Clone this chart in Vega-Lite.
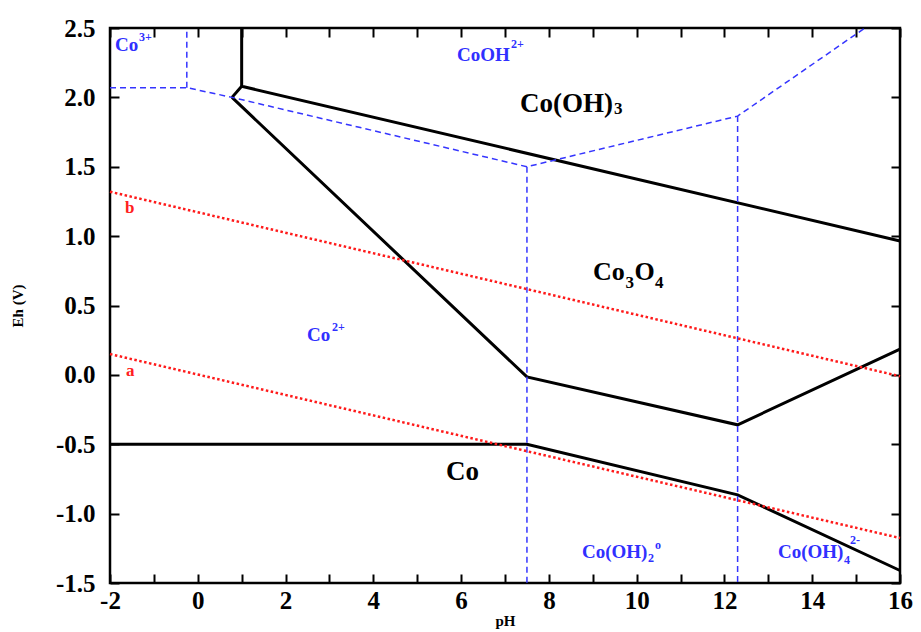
{
  "$schema": "https://vega.github.io/schema/vega-lite/v6.json",
  "width": 790,
  "height": 555,
  "autosize": "none",
  "padding": {"left": 110, "top": 28, "right": 21, "bottom": 49},
  "background": "white",
  "config": {"view": {"stroke": "black", "strokeWidth": 2.5}, "font": "Liberation Serif"},
  "datasets": {
    "lines": [
      {"seg": "B1", "k": "solid", "o": 0, "pH": 1, "Eh": 2.5},
      {"seg": "B1", "k": "solid", "o": 1, "pH": 1, "Eh": 2.08},
      {"seg": "B1", "k": "solid", "o": 2, "pH": 16, "Eh": 0.965},
      {"seg": "B2", "k": "solid", "o": 0, "pH": 1, "Eh": 2.08},
      {"seg": "B2", "k": "solid", "o": 1, "pH": 0.78, "Eh": 2.0},
      {"seg": "B3", "k": "solid", "o": 0, "pH": 0.78, "Eh": 2.0},
      {"seg": "B3", "k": "solid", "o": 1, "pH": 7.5, "Eh": -0.015},
      {"seg": "B3", "k": "solid", "o": 2, "pH": 12.3, "Eh": -0.36},
      {"seg": "B3", "k": "solid", "o": 3, "pH": 16, "Eh": 0.185},
      {"seg": "B4", "k": "solid", "o": 0, "pH": -2, "Eh": -0.5},
      {"seg": "B4", "k": "solid", "o": 1, "pH": 7.5, "Eh": -0.5},
      {"seg": "B4", "k": "solid", "o": 2, "pH": 12.3, "Eh": -0.865},
      {"seg": "B4", "k": "solid", "o": 3, "pH": 16, "Eh": -1.41},
      {"seg": "L1", "k": "dashed", "o": 0, "pH": -2, "Eh": 2.07},
      {"seg": "L1", "k": "dashed", "o": 1, "pH": -0.25, "Eh": 2.07},
      {"seg": "L1", "k": "dashed", "o": 2, "pH": 0.78, "Eh": 2.0},
      {"seg": "L1", "k": "dashed", "o": 3, "pH": 7.5, "Eh": 1.5},
      {"seg": "L1", "k": "dashed", "o": 4, "pH": 12.3, "Eh": 1.865},
      {"seg": "L1", "k": "dashed", "o": 5, "pH": 15.2, "Eh": 2.5},
      {"seg": "L2", "k": "dashed", "o": 0, "pH": -0.25, "Eh": 2.07},
      {"seg": "L2", "k": "dashed", "o": 1, "pH": -0.25, "Eh": 2.5},
      {"seg": "L3", "k": "dashed", "o": 0, "pH": 7.5, "Eh": 1.5},
      {"seg": "L3", "k": "dashed", "o": 1, "pH": 7.5, "Eh": -1.5},
      {"seg": "L4", "k": "dashed", "o": 0, "pH": 12.3, "Eh": 1.865},
      {"seg": "L4", "k": "dashed", "o": 1, "pH": 12.3, "Eh": -1.5},
      {"seg": "Rb", "k": "dotted", "o": 0, "pH": -2, "Eh": 1.32},
      {"seg": "Rb", "k": "dotted", "o": 1, "pH": 16, "Eh": -0.01},
      {"seg": "Ra", "k": "dotted", "o": 0, "pH": -2, "Eh": 0.15},
      {"seg": "Ra", "k": "dotted", "o": 1, "pH": 16, "Eh": -1.176}
    ],
    "labels": [
      {"t": "Co", "c": "blue", "s": 19, "pH": -1.886, "Eh": 2.377},
      {"t": "3+", "c": "blue", "s": 12, "pH": -1.339, "Eh": 2.435},
      {"t": "CoOH", "c": "blue", "s": 19, "pH": 5.906, "Eh": 2.305},
      {"t": "2+", "c": "blue", "s": 12, "pH": 7.137, "Eh": 2.385},
      {"t": "Co", "c": "blue", "s": 19, "pH": 2.488, "Eh": 0.287},
      {"t": "2+", "c": "blue", "s": 12, "pH": 3.058, "Eh": 0.345},
      {"t": "Co(OH)", "c": "blue", "s": 19, "pH": 8.754, "Eh": -1.277},
      {"t": "2", "c": "blue", "s": 12, "pH": 10.258, "Eh": -1.32},
      {"t": "o", "c": "blue", "s": 12, "pH": 10.418, "Eh": -1.226},
      {"t": "Co(OH)", "c": "blue", "s": 19, "pH": 13.22, "Eh": -1.277},
      {"t": "4", "c": "blue", "s": 12, "pH": 14.723, "Eh": -1.334},
      {"t": "2-", "c": "blue", "s": 12, "pH": 14.86, "Eh": -1.19},
      {"t": "Co(OH)", "c": "black", "s": 27, "pH": 7.342, "Eh": 1.952},
      {"t": "3", "c": "black", "s": 17, "pH": 9.483, "Eh": 1.916},
      {"t": "Co", "c": "black", "s": 26, "pH": 9.005, "Eh": 0.741},
      {"t": "3", "c": "black", "s": 17, "pH": 9.745, "Eh": 0.662},
      {"t": "O", "c": "black", "s": 26, "pH": 9.95, "Eh": 0.741},
      {"t": "4", "c": "black", "s": 17, "pH": 10.42, "Eh": 0.662},
      {"t": "Co", "c": "black", "s": 27, "pH": 5.655, "Eh": -0.7},
      {"t": "b", "c": "red", "s": 17, "pH": -1.658, "Eh": 1.203},
      {"t": "a", "c": "red", "s": 17, "pH": -1.635, "Eh": 0.028}
    ]
  },
  "resolve": {"axis": {"x": "independent", "y": "independent"}},
  "layer": [
    {
      "data": {"name": "lines"},
      "transform": [{"filter": "datum.k == 'solid'"}],
      "mark": {"type": "line", "stroke": "black", "strokeWidth": 3},
      "encoding": {
        "x": {"field": "pH", "type": "quantitative", "scale": {"domain": [-2, 16], "nice": false, "zero": false},
          "axis": {"orient": "bottom", "values": [-2,-1,0,1,2,3,4,5,6,7,8,9,10,11,12,13,14,15,16],
            "labelExpr": "datum.value % 2 == 0 ? toString(datum.value) : ''", "labelFont": "Liberation Serif", "labelFontWeight": "bold",
            "labelFontSize": 25, "labelColor": "black", "labelFlush": false, "labelOverlap": false, "tickSize": -9, "tickWidth": 2, "tickColor": "black", "domain": false, "grid": false,
            "labelPadding": 14, "title": "pH", "titleFont": "Liberation Serif", "titleFontSize": 15, "titleFontWeight": "bold", "titleColor": "black", "titlePadding": 0}},
        "y": {"field": "Eh", "type": "quantitative", "scale": {"domain": [-1.5, 2.5], "nice": false, "zero": false},
          "axis": {"orient": "left", "values": [-1.5,-1,-0.5,0,0.5,1,1.5,2,2.5],
            "labelExpr": "replace(format(datum.value, '.1f'), '−', '-')", "labelFont": "Liberation Serif", "labelFontWeight": "bold",
            "labelFontSize": 25, "labelColor": "black", "labelFlush": false, "labelOverlap": false, "tickSize": -9, "tickWidth": 2, "tickColor": "black", "domain": false, "grid": false,
            "labelPadding": 24, "title": "Eh (V)", "titleFont": "Liberation Serif", "titleFontSize": 15, "titleFontWeight": "bold", "titleColor": "black", "titlePadding": 30}},
        "detail": {"field": "seg"},
        "order": {"field": "o", "type": "quantitative"}
      }
    },
    {
      "data": {"name": "lines"},
      "transform": [{"filter": "datum.k == 'dashed'"}],
      "mark": {"type": "line", "stroke": "#3535ff", "strokeWidth": 1.5, "strokeDash": [6, 4]},
      "encoding": {
        "x": {"field": "pH", "type": "quantitative", "axis": null},
        "y": {"field": "Eh", "type": "quantitative", "axis": null},
        "detail": {"field": "seg"},
        "order": {"field": "o", "type": "quantitative"}
      }
    },
    {
      "data": {"name": "lines"},
      "transform": [{"filter": "datum.k == 'dotted'"}],
      "mark": {"type": "line", "stroke": "#ff1a1a", "strokeWidth": 2.5, "strokeDash": [2.5, 2.5]},
      "encoding": {
        "x": {"field": "pH", "type": "quantitative", "axis": null},
        "y": {"field": "Eh", "type": "quantitative", "axis": null},
        "detail": {"field": "seg"},
        "order": {"field": "o", "type": "quantitative"}
      }
    },
    {
      "data": {"name": "labels"},
      "mark": {"type": "text", "align": "left", "baseline": "middle", "font": "Liberation Serif", "fontWeight": "bold"},
      "encoding": {
        "x": {"field": "pH", "type": "quantitative",
          "axis": {"orient": "top", "values": [-2,-1,0,1,2,3,4,5,6,7,8,9,10,11,12,13,14,15,16], "labels": false, "tickSize": -9, "tickWidth": 2, "tickColor": "black", "domain": false, "grid": false, "title": null}},
        "y": {"field": "Eh", "type": "quantitative",
          "axis": {"orient": "right", "values": [-1.5,-1,-0.5,0,0.5,1,1.5,2,2.5], "labels": false, "tickSize": -9, "tickWidth": 2, "tickColor": "black", "domain": false, "grid": false, "title": null}},
        "text": {"field": "t"},
        "size": {"field": "s", "type": "quantitative", "scale": null},
        "color": {"field": "c", "type": "nominal", "scale": {"domain": ["blue", "black", "red"], "range": ["#3030ff", "black", "#ff2020"]}, "legend": null}
      }
    }
  ]
}
